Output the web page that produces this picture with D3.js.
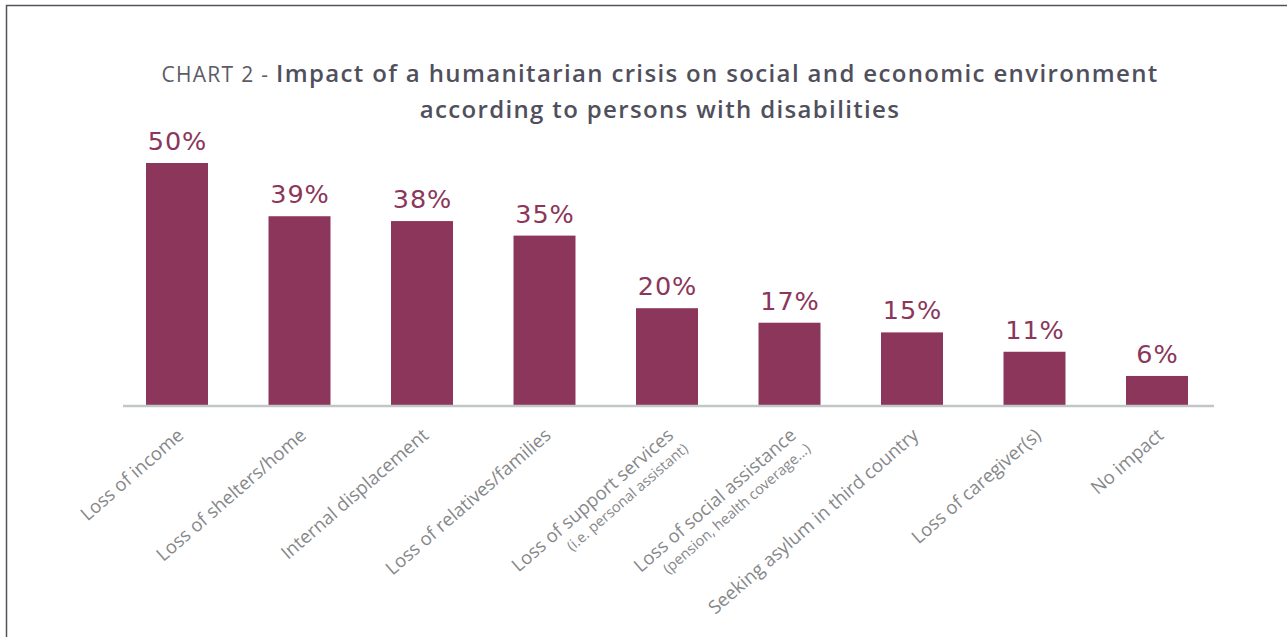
<!DOCTYPE html>
<html><head><meta charset="utf-8">
<script src="https://cdn.jsdelivr.net/npm/d3@7"></script>
<style>html,body{margin:0;padding:0;background:#fff;}svg{display:block;}</style>
</head><body>
<script>
const categories = ["Loss of income","Loss of shelters/home","Internal displacement","Loss of relatives/families","Loss of support services","Loss of social assistance","Seeking asylum in third country","Loss of caregiver(s)","No impact"];
const subLabels = ["","","","","(i.e. personal assistant)","(pension, health coverage...)","","",""];
const values = [50,39,38,35,20,17,15,11,6];
const titlePrefix = "CHART 2 - ";
const titleLine1 = "Impact of a humanitarian crisis on social and economic environment";
const titleLine2 = "according to persons with disabilities";

const W = 1287, H = 637;
const svg = d3.select("body").append("svg").attr("width", W).attr("height", H);

// frame
svg.append("path").attr("d", `M6.5,${H} L6.5,5.5 L${W},5.5`).attr("fill","none").attr("stroke","#50535a").attr("stroke-width",1.5);

// title
const t1 = svg.append("text").attr("x", 660).attr("y", 82).attr("text-anchor","middle")
  .style("font-family","'Open Sans', sans-serif").style("font-size","24px");
t1.append("tspan").text(titlePrefix).attr("fill","#5b5c66").style("font-weight",400).style("letter-spacing","1.3px").style("font-size","21px");
t1.append("tspan").text(titleLine1).attr("fill","#50505d").style("font-weight",600).style("letter-spacing","1.35px");
svg.append("text").attr("x", 660).attr("y", 118).attr("text-anchor","middle")
  .style("font-family","'Open Sans', sans-serif").style("font-size","24px").style("font-weight",600).style("letter-spacing","1.35px")
  .attr("fill","#50505d").text(titleLine2);

const x = d3.scaleBand().domain(categories).range([115.75, 1218.25]).paddingInner(0.494).paddingOuter(0.247);
const y = d3.scaleLinear().domain([0, 50]).range([405, 163]);

const barColor = "#8b365a";
svg.append("g").selectAll("rect").data(categories).join("rect")
  .attr("x", d => x(d)).attr("width", x.bandwidth())
  .attr("y", (d,i) => y(values[i])).attr("height", (d,i) => y(0) - y(values[i]))
  .attr("fill", barColor);

svg.append("g").selectAll("text").data(categories).join("text")
  .attr("x", d => x(d) + x.bandwidth()/2 + 0.5).attr("y", (d,i) => y(values[i]) - 13)
  .attr("text-anchor","middle").attr("fill", barColor)
  .style("font-family","'DejaVu Sans', sans-serif").style("font-size","25.5px").style("letter-spacing","1px")
  .text((d,i) => values[i] + "%");

// axis
const xAxis = d3.axisBottom(x).tickSize(0).tickSizeOuter(0).tickFormat("");
const ag = svg.append("g").attr("transform","translate(0,406)").call(xAxis);
ag.select(".domain").remove();
svg.append("line").attr("x1",123).attr("x2",1214).attr("y1",406).attr("y2",406).attr("stroke","#c3c6c6").attr("stroke-width",2.5);

const lg = svg.append("g").selectAll("g").data(categories).join("g")
  .attr("transform", d => `translate(${x(d) + x.bandwidth()/2 - 1},${427}) rotate(-41)`);
lg.append("text").attr("text-anchor","end").attr("dy","0.72em")
  .attr("fill","#86888a").style("font-family","'Open Sans', sans-serif").style("font-size","18.5px")
  .text(d => d);
lg.append("text").attr("text-anchor","end").attr("dy","2.25em").attr("dx", 2)
  .attr("fill","#86888a").style("font-family","'Open Sans', sans-serif").style("font-size","14.5px")
  .text((d,i) => subLabels[i]);
</script>
</body></html>
